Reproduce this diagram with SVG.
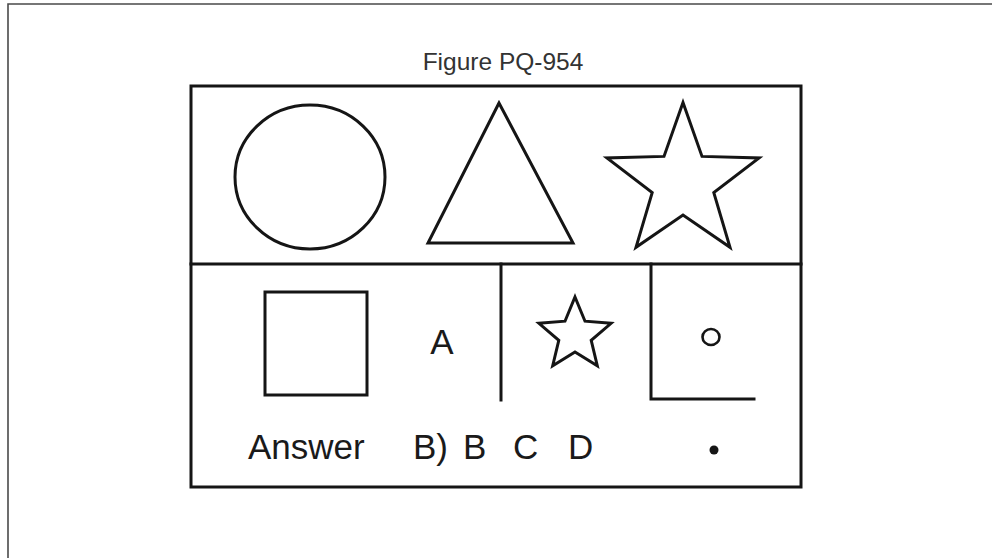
<svg xmlns="http://www.w3.org/2000/svg" width="992" height="558" viewBox="0 0 992 558">
  <style>
    .ln { fill: none; stroke: #151515; stroke-width: 3; stroke-linejoin: miter; stroke-linecap: square; }
    .shape { fill: none; stroke: #151515; stroke-width: 3; stroke-linejoin: miter; }
    .lbl { font-family: "Liberation Sans", Arial, sans-serif; fill: #1a1a1a; }
    .title { font-size: 24.5px; fill: #333; }
    .big { font-size: 35px; }
  </style>
  <rect width="992" height="558" fill="#ffffff"/>
  <g id="frame">
    <path d="M8,558 V4 H992" fill="none" stroke="#4a4a4a" stroke-width="1.6"/>
  </g>
  <g id="title">
    <text class="lbl title" x="503" y="70" text-anchor="middle">Figure PQ-954</text>
  </g>
  <g id="panel">
    <rect class="ln" x="191" y="86" width="610" height="401"/>
    <line class="ln" x1="191" y1="264" x2="801" y2="264"/>
    <line class="ln" x1="501" y1="264" x2="501" y2="400"/>
    <path class="ln" d="M651,264 V399 H754"/>
  </g>
  <g id="circle">
    <ellipse class="shape" cx="310" cy="177" rx="75" ry="72"/>
  </g>
  <g id="triangle">
    <polygon class="shape" points="499,103 428,243 573,243"/>
  </g>
  <g id="big-star">
    <polygon class="shape" points="683,102.6 702,156.4 759.1,157.9 713.8,192.6 730,247.3 683,215 636,247.3 652.2,192.6 606.9,157.9 664,156.4"/>
  </g>
  <g id="square">
    <rect class="shape" x="265" y="292" width="102" height="103"/>
  </g>
  <g id="label-a">
    <text class="lbl big" x="442" y="354" text-anchor="middle">A</text>
  </g>
  <g id="small-star">
    <polygon class="shape" points="575,297 585,321.2 611.1,323.3 591.2,340.3 597.3,365.7 575,352 552.7,365.7 558.8,340.3 538.9,323.3 565,321.2"/>
  </g>
  <g id="small-circle">
    <ellipse cx="711" cy="337" rx="8.5" ry="8" fill="none" stroke="#151515" stroke-width="2.6"/>
  </g>
  <g id="answer-row">
    <text class="lbl big" x="248" y="459">Answer</text>
    <text class="lbl big" y="459"><tspan x="413">B)</tspan><tspan x="463">B</tspan><tspan x="513">C</tspan><tspan x="568">D</tspan></text>
    <circle cx="714" cy="450" r="4.5" fill="#151515"/>
  </g>
</svg>
